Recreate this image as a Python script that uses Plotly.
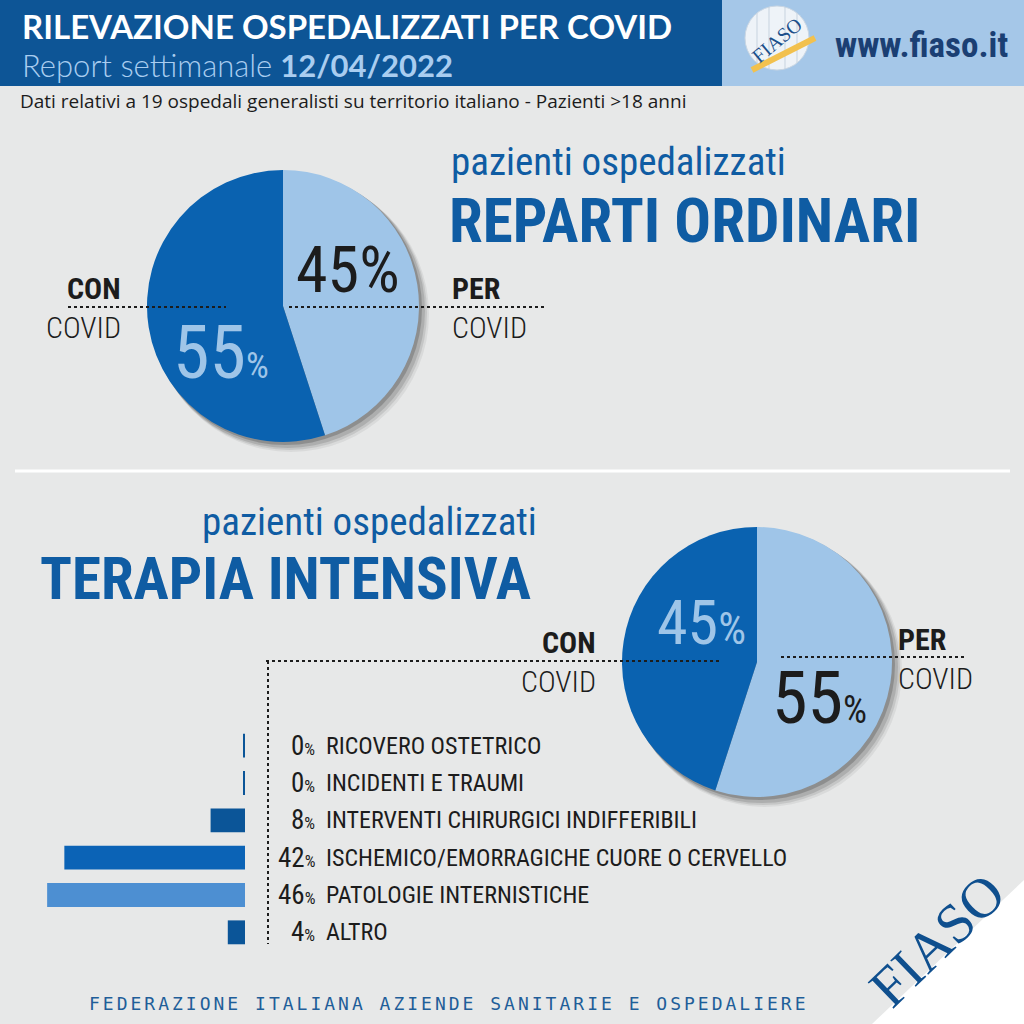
import plotly.graph_objects as go

# ---------------- data ----------------
ordinari_labels = ["PER COVID", "CON COVID"]
ordinari_values = [45, 55]
intensiva_labels = ["PER COVID", "CON COVID"]
intensiva_values = [55, 45]

causes = ["RICOVERO OSTETRICO", "INCIDENTI E TRAUMI", "INTERVENTI CHIRURGICI INDIFFERIBILI",
          "ISCHEMICO/EMORRAGICHE CUORE O CERVELLO", "PATOLOGIE INTERNISTICHE", "ALTRO"]
cause_pct = [0, 0, 8, 42, 46, 4]

# ---------------- style ----------------
W = H = 1024
BG = "#e7e8e8"
NAVY = "#0d5596"
LIGHT = "#9fc5e8"
DARK = "#0a62b0"
TITLE = "#0f5ca3"
INK = "#1c1c1c"
NARROW = "Roboto Condensed, Roboto, sans-serif"
bar_colors = ["#0b5598", "#0b5598", "#0b5598", "#0b63b6", "#4d8fd2", "#0b5598"]


def X(px):
    return px / W


def Y(py):
    return 1 - py / H


fig = go.Figure()


def pie_domain(cx, cy, r):
    return dict(x=[X(cx - r), X(cx + r)], y=[Y(cy + r), Y(cy - r)])


fig.add_trace(go.Pie(labels=ordinari_labels, values=ordinari_values, sort=False,
                     direction="clockwise", rotation=0,
                     marker=dict(colors=[LIGHT, DARK], line=dict(width=0)),
                     textinfo="none", hoverinfo="label+percent", showlegend=False,
                     domain=pie_domain(283, 306, 136)))
fig.add_trace(go.Pie(labels=intensiva_labels, values=intensiva_values, sort=False,
                     direction="clockwise", rotation=0,
                     marker=dict(colors=[LIGHT, DARK], line=dict(width=0)),
                     textinfo="none", hoverinfo="label+percent", showlegend=False,
                     domain=pie_domain(757, 662, 135)))

disp = [max(v, 0.45) for v in cause_pct]
fig.add_trace(go.Bar(x=disp, y=causes, orientation="h", marker=dict(color=bar_colors, line=dict(width=0)),
                     showlegend=False, hoverinfo="skip"))

fig.update_layout(
    width=W, height=H, margin=dict(l=0, r=0, t=0, b=0),
    paper_bgcolor=BG, plot_bgcolor="rgba(0,0,0,0)",
    bargap=0.36,
    xaxis=dict(domain=[X(8), X(245)], range=[55.1, 0], visible=False, fixedrange=True),
    yaxis=dict(domain=[Y(951), Y(727)], categoryorder="array", categoryarray=causes[::-1],
               visible=False, fixedrange=True),
)

shapes = []
shapes.append(dict(type="rect", xref="paper", yref="paper", x0=0, x1=X(722), y0=Y(86), y1=1,
                   fillcolor=NAVY, line=dict(width=0), layer="below"))
shapes.append(dict(type="rect", xref="paper", yref="paper", x0=X(722), x1=1, y0=Y(86), y1=1,
                   fillcolor="#a5c7e8", line=dict(width=0), layer="below"))
for cx, cy, r in [(283, 306, 136), (757, 662, 135)]:
    for k, a in [(10, 0.06), (8, 0.09), (6, 0.12), (3, 0.18)]:
        shapes.append(dict(type="circle", xref="paper", yref="paper",
                           x0=X(cx - r + k * 0.6), x1=X(cx + r + k),
                           y0=Y(cy + r + k), y1=Y(cy - r + k * 0.6),
                           fillcolor=f"rgba(0,0,0,{a})", line=dict(width=0), layer="below"))
shapes.append(dict(type="line", xref="paper", yref="paper", x0=X(15), x1=X(1010), y0=Y(471), y1=Y(471),
                   line=dict(color="white", width=3)))
dot = dict(color=INK, width=2, dash="dot")
for x0, x1, yy in [(68, 226, 307), (289, 546, 307), (266, 719, 661), (781, 967, 657)]:
    shapes.append(dict(type="line", xref="paper", yref="paper", x0=X(x0), x1=X(x1), y0=Y(yy), y1=Y(yy), line=dot))
shapes.append(dict(type="line", xref="paper", yref="paper", x0=X(268), x1=X(268), y0=Y(661), y1=Y(944), line=dot))
shapes.append(dict(type="path", xref="paper", yref="paper",
                   path=f"M {X(872)} {Y(1024)} L {X(1024)} {Y(880)} L {X(1024)} {Y(1024)} Z",
                   fillcolor="white", line=dict(width=0), layer="below"))
shapes.append(dict(type="circle", xref="paper", yref="paper", x0=X(745), x1=X(809), y0=Y(70), y1=Y(6),
                   fillcolor="#eef3f8", line=dict(color="#c9d6e3", width=1)))
for dx in (-20, -8, 8, 20):
    shapes.append(dict(type="line", xref="paper", yref="paper", x0=X(777 + dx), x1=X(777 + dx),
                       y0=Y(38 + (32 ** 2 - dx ** 2) ** 0.5), y1=Y(38 - (32 ** 2 - dx ** 2) ** 0.5),
                       line=dict(color="#c7d3df", width=1)))
shapes.append(dict(type="line", xref="paper", yref="paper", x0=X(752), x1=X(815), y0=Y(70), y1=Y(38),
                   line=dict(color="#f2c14e", width=6)))
fig.update_layout(shapes=shapes)

ann = []


def txt(x, y, s, size, color=INK, family=NARROW, anchor="left", yanchor="middle", angle=0, weight=None):
    f = dict(size=size, color=color, family=family)
    if weight:
        f["weight"] = weight
    ann.append(dict(x=X(x), y=Y(y), xref="paper", yref="paper", text=s, showarrow=False,
                    xanchor=anchor, yanchor=yanchor, textangle=angle, font=f))


txt(20, 26, "<b>RILEVAZIONE OSPEDALIZZATI PER COVID</b>", 33, "white", "Lato")
txt(20, 65, "<span style='font-weight:300'>Report settimanale</span> <b>12/04/2022</b>", 31, "#a9cdf0", "Lato")
txt(833, 45, "<b>www.fiaso.it</b>", 35, "#1b3f73", NARROW)
txt(777, 40, "FIASO", 20, "#1b4f8a", "Liberation Serif, serif", "center", angle=-40)
txt(18, 101, "Dati relativi a 19 ospedali generalisti su territorio italiano - Pazienti &gt;18 anni", 19, INK,
    "Open Sans")

txt(449, 162, "pazienti ospedalizzati", 39, TITLE, NARROW)
txt(447, 221, "<b>REPARTI ORDINARI</b>", 61, TITLE, NARROW)
txt(200, 522, "pazienti ospedalizzati", 39, TITLE, NARROW)
txt(38, 578, "<b>TERAPIA INTENSIVA</b>", 59, TITLE, NARROW)

txt(123, 288, "<b>CON</b>", 30, INK, NARROW, "right")
txt(123, 327, "COVID", 30, INK, NARROW, "right", weight=300)
txt(450, 288, "<b>PER</b>", 30, INK, NARROW)
txt(450, 327, "COVID", 30, INK, NARROW, weight=300)
txt(348, 270, f"{ordinari_values[0]}%", 64, INK, NARROW, "center")
txt(221, 352, f"{ordinari_values[1]}<span style='font-size:36px'>%</span>", 74, LIGHT, NARROW, "center")

txt(598, 642, "<b>CON</b>", 30, INK, NARROW, "right")
txt(598, 681, "COVID", 30, INK, NARROW, "right", weight=300)
txt(896, 639, "<b>PER</b>", 30, INK, NARROW)
txt(896, 678, "COVID", 30, INK, NARROW, weight=300)
txt(701, 622, f"{intensiva_values[1]}<span style='font-size:44px'>%</span>", 62, LIGHT, NARROW, "center")
txt(819, 698, f"{intensiva_values[0]}<span style='font-size:38px'>%</span>", 72, INK, NARROW, "center")

for c, v in zip(causes, cause_pct):
    ann.append(dict(x=X(317), y=c, xref="paper", yref="y", text=f"{v}<span style='font-size:17px'>%</span>",
                    showarrow=False, xanchor="right", yanchor="middle",
                    font=dict(size=27, color=INK, family=NARROW)))
    ann.append(dict(x=X(324), y=c, xref="paper", yref="y", text=c,
                    showarrow=False, xanchor="left", yanchor="middle",
                    font=dict(size=24, color=INK, family=NARROW)))

txt(449, 1003, "<span style='letter-spacing:3px'>FEDERAZIONE ITALIANA AZIENDE SANITARIE E OSPEDALIERE</span>",
    18, "#1f5e99", "DejaVu Sans Mono", "center")
txt(937, 940, "FIASO", 56, "#0f4f8e", "Liberation Serif, serif", "center", angle=-44)

fig.update_layout(annotations=ann)
fig.write_html("out.html", post_script="document.body.style.margin='0';",
               config={"displayModeBar": False})
